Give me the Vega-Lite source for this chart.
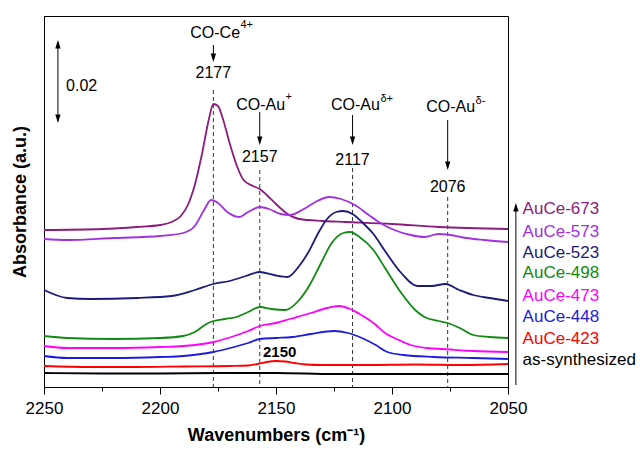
{
  "$schema": "https://vega.github.io/schema/vega-lite/v6.json",
  "width": 464,
  "height": 371,
  "autosize": {"type": "none"},
  "padding": {"left": 44, "top": 16, "right": 132, "bottom": 66},
  "background": "white",
  "config": {
    "view": {"stroke": "black", "strokeWidth": 1},
    "font": "Liberation Sans",
    "text": {"font": "Liberation Sans", "color": "black"}
  },
  "datasets": {
    "curves": [
      {"s":"AuCe-673","x":2250,"y":152},{"s":"AuCe-673","x":2225,"y":153},{"s":"AuCe-673","x":2210,"y":155},{"s":"AuCe-673","x":2200,"y":157},{"s":"AuCe-673","x":2195,"y":160},{"s":"AuCe-673","x":2191,"y":166},{"s":"AuCe-673","x":2188,"y":177},{"s":"AuCe-673","x":2185,"y":197},{"s":"AuCe-673","x":2182,"y":227},{"s":"AuCe-673","x":2179,"y":262},{"s":"AuCe-673","x":2177,"y":278},{"s":"AuCe-673","x":2175,"y":276},{"s":"AuCe-673","x":2173,"y":264},{"s":"AuCe-673","x":2170,"y":239},{"s":"AuCe-673","x":2167,"y":217},{"s":"AuCe-673","x":2164,"y":202},{"s":"AuCe-673","x":2160,"y":196},{"s":"AuCe-673","x":2157,"y":193},{"s":"AuCe-673","x":2154,"y":187},{"s":"AuCe-673","x":2150,"y":178},{"s":"AuCe-673","x":2145,"y":168},{"s":"AuCe-673","x":2140,"y":163},{"s":"AuCe-673","x":2130,"y":161},{"s":"AuCe-673","x":2120,"y":160},{"s":"AuCe-673","x":2100,"y":158},{"s":"AuCe-673","x":2080,"y":155},{"s":"AuCe-673","x":2050,"y":153},
      {"s":"AuCe-573","x":2250,"y":143},{"s":"AuCe-573","x":2240,"y":142},{"s":"AuCe-573","x":2220,"y":144},{"s":"AuCe-573","x":2200,"y":146},{"s":"AuCe-573","x":2190,"y":149},{"s":"AuCe-573","x":2185,"y":156},{"s":"AuCe-573","x":2181,"y":172},{"s":"AuCe-573","x":2178,"y":182},{"s":"AuCe-573","x":2175,"y":179},{"s":"AuCe-573","x":2171,"y":170},{"s":"AuCe-573","x":2166,"y":165},{"s":"AuCe-573","x":2162,"y":170},{"s":"AuCe-573","x":2157,"y":175},{"s":"AuCe-573","x":2153,"y":173},{"s":"AuCe-573","x":2148,"y":168},{"s":"AuCe-573","x":2144,"y":167},{"s":"AuCe-573","x":2138,"y":173},{"s":"AuCe-573","x":2133,"y":180},{"s":"AuCe-573","x":2127,"y":185},{"s":"AuCe-573","x":2122,"y":183},{"s":"AuCe-573","x":2116,"y":177},{"s":"AuCe-573","x":2110,"y":167},{"s":"AuCe-573","x":2105,"y":159},{"s":"AuCe-573","x":2099,"y":152},{"s":"AuCe-573","x":2092,"y":147},{"s":"AuCe-573","x":2086,"y":145},{"s":"AuCe-573","x":2080,"y":148},{"s":"AuCe-573","x":2075,"y":147},{"s":"AuCe-573","x":2068,"y":144},{"s":"AuCe-573","x":2060,"y":142},{"s":"AuCe-573","x":2050,"y":140},
      {"s":"AuCe-523","x":2250,"y":92},{"s":"AuCe-523","x":2240,"y":84},{"s":"AuCe-523","x":2230,"y":83},{"s":"AuCe-523","x":2210,"y":84},{"s":"AuCe-523","x":2195,"y":86},{"s":"AuCe-523","x":2185,"y":92},{"s":"AuCe-523","x":2177,"y":98},{"s":"AuCe-523","x":2170,"y":101},{"s":"AuCe-523","x":2163,"y":106},{"s":"AuCe-523","x":2157,"y":110},{"s":"AuCe-523","x":2151,"y":107},{"s":"AuCe-523","x":2145,"y":105},{"s":"AuCe-523","x":2140,"y":116},{"s":"AuCe-523","x":2136,"y":130},{"s":"AuCe-523","x":2132,"y":148},{"s":"AuCe-523","x":2128,"y":163},{"s":"AuCe-523","x":2124,"y":170},{"s":"AuCe-523","x":2121,"y":171},{"s":"AuCe-523","x":2117,"y":168},{"s":"AuCe-523","x":2113,"y":160},{"s":"AuCe-523","x":2108,"y":148},{"s":"AuCe-523","x":2103,"y":131},{"s":"AuCe-523","x":2096,"y":109},{"s":"AuCe-523","x":2089,"y":96},{"s":"AuCe-523","x":2083,"y":96},{"s":"AuCe-523","x":2077,"y":98},{"s":"AuCe-523","x":2071,"y":92},{"s":"AuCe-523","x":2065,"y":87},{"s":"AuCe-523","x":2058,"y":84},{"s":"AuCe-523","x":2050,"y":81},
      {"s":"AuCe-498","x":2250,"y":46},{"s":"AuCe-498","x":2240,"y":44},{"s":"AuCe-498","x":2220,"y":43},{"s":"AuCe-498","x":2200,"y":44},{"s":"AuCe-498","x":2190,"y":46},{"s":"AuCe-498","x":2185,"y":50},{"s":"AuCe-498","x":2180,"y":58},{"s":"AuCe-498","x":2177,"y":61},{"s":"AuCe-498","x":2172,"y":63},{"s":"AuCe-498","x":2167,"y":65},{"s":"AuCe-498","x":2162,"y":70},{"s":"AuCe-498","x":2157,"y":75},{"s":"AuCe-498","x":2152,"y":73},{"s":"AuCe-498","x":2146,"y":72},{"s":"AuCe-498","x":2140,"y":82},{"s":"AuCe-498","x":2136,"y":95},{"s":"AuCe-498","x":2131,"y":117},{"s":"AuCe-498","x":2126,"y":139},{"s":"AuCe-498","x":2121,"y":149},{"s":"AuCe-498","x":2118,"y":150},{"s":"AuCe-498","x":2114,"y":145},{"s":"AuCe-498","x":2108,"y":132},{"s":"AuCe-498","x":2103,"y":114},{"s":"AuCe-498","x":2096,"y":89},{"s":"AuCe-498","x":2090,"y":72},{"s":"AuCe-498","x":2086,"y":65},{"s":"AuCe-498","x":2080,"y":61},{"s":"AuCe-498","x":2076,"y":59},{"s":"AuCe-498","x":2070,"y":53},{"s":"AuCe-498","x":2065,"y":47},{"s":"AuCe-498","x":2058,"y":45},{"s":"AuCe-498","x":2050,"y":44},
      {"s":"AuCe-473","x":2250,"y":36},{"s":"AuCe-473","x":2240,"y":34},{"s":"AuCe-473","x":2220,"y":34},{"s":"AuCe-473","x":2200,"y":35},{"s":"AuCe-473","x":2190,"y":36},{"s":"AuCe-473","x":2177,"y":40},{"s":"AuCe-473","x":2168,"y":46},{"s":"AuCe-473","x":2162,"y":51},{"s":"AuCe-473","x":2157,"y":56},{"s":"AuCe-473","x":2150,"y":59},{"s":"AuCe-473","x":2144,"y":63},{"s":"AuCe-473","x":2135,"y":69},{"s":"AuCe-473","x":2128,"y":74},{"s":"AuCe-473","x":2123,"y":76},{"s":"AuCe-473","x":2118,"y":73},{"s":"AuCe-473","x":2114,"y":68},{"s":"AuCe-473","x":2108,"y":59},{"s":"AuCe-473","x":2103,"y":49},{"s":"AuCe-473","x":2097,"y":42},{"s":"AuCe-473","x":2092,"y":37},{"s":"AuCe-473","x":2085,"y":34},{"s":"AuCe-473","x":2078,"y":33},{"s":"AuCe-473","x":2065,"y":31},{"s":"AuCe-473","x":2050,"y":30},
      {"s":"AuCe-448","x":2250,"y":26},{"s":"AuCe-448","x":2240,"y":24},{"s":"AuCe-448","x":2220,"y":24},{"s":"AuCe-448","x":2200,"y":25},{"s":"AuCe-448","x":2190,"y":26},{"s":"AuCe-448","x":2177,"y":30},{"s":"AuCe-448","x":2168,"y":35},{"s":"AuCe-448","x":2162,"y":39},{"s":"AuCe-448","x":2157,"y":43},{"s":"AuCe-448","x":2150,"y":44},{"s":"AuCe-448","x":2143,"y":45},{"s":"AuCe-448","x":2135,"y":48},{"s":"AuCe-448","x":2125,"y":51},{"s":"AuCe-448","x":2119,"y":49},{"s":"AuCe-448","x":2113,"y":44},{"s":"AuCe-448","x":2107,"y":37},{"s":"AuCe-448","x":2102,"y":30},{"s":"AuCe-448","x":2095,"y":27},{"s":"AuCe-448","x":2082,"y":25},{"s":"AuCe-448","x":2065,"y":24},{"s":"AuCe-448","x":2050,"y":23},
      {"s":"AuCe-423","x":2250,"y":16},{"s":"AuCe-423","x":2230,"y":15},{"s":"AuCe-423","x":2210,"y":15},{"s":"AuCe-423","x":2190,"y":15.5},{"s":"AuCe-423","x":2170,"y":16},{"s":"AuCe-423","x":2162,"y":16.5},{"s":"AuCe-423","x":2158,"y":18},{"s":"AuCe-423","x":2154,"y":20},{"s":"AuCe-423","x":2150,"y":21},{"s":"AuCe-423","x":2146,"y":20.5},{"s":"AuCe-423","x":2142,"y":19},{"s":"AuCe-423","x":2137,"y":17.5},{"s":"AuCe-423","x":2130,"y":17},{"s":"AuCe-423","x":2110,"y":17},{"s":"AuCe-423","x":2090,"y":17.5},{"s":"AuCe-423","x":2070,"y":17},{"s":"AuCe-423","x":2050,"y":18},
      {"s":"as-synthesized","x":2250,"y":9},{"s":"as-synthesized","x":2225,"y":8.5},{"s":"as-synthesized","x":2200,"y":8.5},{"s":"as-synthesized","x":2175,"y":9},{"s":"as-synthesized","x":2150,"y":9},{"s":"as-synthesized","x":2125,"y":8},{"s":"as-synthesized","x":2100,"y":8},{"s":"as-synthesized","x":2075,"y":8},{"s":"as-synthesized","x":2050,"y":8}
    ],
    "dashed": [
      {"x":2177,"y":292,"y2":-5},{"x":2157,"y":212,"y2":-5},{"x":2117,"y":214,"y2":-5},{"x":2076,"y":185,"y2":-5}
    ],
    "arrows": [
      {"x":2177,"y":337,"y2":322},{"x":2157,"y":270,"y2":239},{"x":2117,"y":267,"y2":239},{"x":2076,"y":262,"y2":214},{"x":2244,"y":340,"y2":261},{"x":2046.6,"y":-3,"y2":177}
    ],
    "headsDown": [
      {"x":2177,"y":320},{"x":2157,"y":237},{"x":2117,"y":237},{"x":2076,"y":212},{"x":2244,"y":259}
    ],
    "headsUp": [
      {"x":2244,"y":342},{"x":2046.6,"y":179}
    ],
    "baseText": [
      {"x":2165.5,"y":349,"t":"CO-Ce"},{"x":2146.1,"y":277,"t":"CO-Au"},{"x":2105.2,"y":277,"t":"CO-Au"},{"x":2064.2,"y":275,"t":"CO-Au"}
    ],
    "supText": [
      {"x":2165.3,"y":357,"t":"4+"},{"x":2145.9,"y":285,"t":"+"},{"x":2105,"y":283,"t":"δ+"},{"x":2064,"y":281,"t":"δ-"}
    ],
    "numText": [
      {"x":2177,"y":309,"t":"2177"},{"x":2157,"y":225,"t":"2157"},{"x":2117,"y":222,"t":"2117"},{"x":2076,"y":195,"t":"2076"}
    ],
    "scaleText": [
      {"x":2240.5,"y":296,"t":"0.02"}
    ],
    "boldText": [
      {"x":2148.4,"y":30,"t":"2150"}
    ],
    "legend": [
      {"s":"AuCe-673","x":2043.7,"y":173},{"s":"AuCe-573","x":2043.7,"y":150.3},{"s":"AuCe-523","x":2043.7,"y":129.3},{"s":"AuCe-498","x":2043.7,"y":108.7},{"s":"AuCe-473","x":2043.7,"y":86},{"s":"AuCe-448","x":2043.7,"y":64.7},{"s":"AuCe-423","x":2043.7,"y":42.7},{"s":"as-synthesized","x":2043.7,"y":22}
    ]
  },
  "layer": [
    {
      "data": {"name": "dashed"},
      "mark": {"type": "rule", "strokeDash": [4, 3], "color": "#333333", "strokeWidth": 1},
      "encoding": {
        "x": {"field": "x", "type": "quantitative", "scale": {"domain": [2050, 2250], "reverse": true, "nice": false, "zero": false},
          "axis": {
            "values": [2250, 2225, 2200, 2175, 2150, 2125, 2100, 2075, 2050],
            "labelExpr": "datum.value % 50 === 0 ? datum.label : ''",
            "format": "d",
            "tickSize": {"condition": {"test": "datum.value % 50 === 0", "value": 7}, "value": 4},
            "tickColor": "black", "domainColor": "black", "labelColor": "black", "titleColor": "black",
            "grid": false, "labelFlush": false, "labelFontSize": 17, "labelFont": "Liberation Sans",
            "labelPadding": 6,
            "title": "Wavenumbers (cm⁻¹)", "titleFontSize": 18, "titleFont": "Liberation Sans", "titleFontWeight": "bold", "titlePadding": 10
          }},
        "y": {"field": "y", "type": "quantitative", "scale": {"domain": [-5, 366], "nice": false, "zero": false},
          "axis": {"title": "Absorbance (a.u.)", "labels": false, "ticks": false, "grid": false, "domainColor": "black",
            "titleFontSize": 18, "titleFont": "Liberation Sans", "titleFontWeight": "bold", "titlePadding": 15, "titleColor": "black"}},
        "y2": {"field": "y2"}
      }
    },
    {
      "data": {"name": "curves"},
      "mark": {"type": "line", "interpolate": "monotone", "strokeWidth": 1.8},
      "encoding": {
        "x": {"field": "x", "type": "quantitative"},
        "y": {"field": "y", "type": "quantitative"},
        "color": {"field": "s", "type": "nominal", "legend": null,
          "scale": {"domain": ["AuCe-673","AuCe-573","AuCe-523","AuCe-498","AuCe-473","AuCe-448","AuCe-423","as-synthesized"],
            "range": ["#8B1C7C","#A030E0","#1B1B78","#108A10","#FF00FF","#1C1CE0","#FF0000","#000000"]}}
      }
    },
    {
      "data": {"name": "arrows"},
      "mark": {"type": "rule", "color": "black", "strokeWidth": 1},
      "encoding": {
        "x": {"field": "x", "type": "quantitative"},
        "y": {"field": "y", "type": "quantitative"},
        "y2": {"field": "y2"}
      }
    },
    {
      "data": {"name": "headsDown"},
      "mark": {"type": "point", "shape": "M-1,-3.2L1,-3.2L0,0Z", "filled": true, "size": 28, "color": "black", "opacity": 1},
      "encoding": {
        "x": {"field": "x", "type": "quantitative"},
        "y": {"field": "y", "type": "quantitative"}
      }
    },
    {
      "data": {"name": "headsUp"},
      "mark": {"type": "point", "shape": "M-1,3.2L1,3.2L0,0Z", "filled": true, "size": 28, "color": "black", "opacity": 1},
      "encoding": {
        "x": {"field": "x", "type": "quantitative"},
        "y": {"field": "y", "type": "quantitative"}
      }
    },
    {
      "data": {"name": "baseText"},
      "mark": {"type": "text", "align": "right", "baseline": "middle", "fontSize": 16, "color": "black"},
      "encoding": {
        "x": {"field": "x", "type": "quantitative"},
        "y": {"field": "y", "type": "quantitative"},
        "text": {"field": "t"}
      }
    },
    {
      "data": {"name": "supText"},
      "mark": {"type": "text", "align": "left", "baseline": "middle", "fontSize": 11, "color": "black"},
      "encoding": {
        "x": {"field": "x", "type": "quantitative"},
        "y": {"field": "y", "type": "quantitative"},
        "text": {"field": "t"}
      }
    },
    {
      "data": {"name": "numText"},
      "mark": {"type": "text", "align": "center", "baseline": "middle", "fontSize": 16, "color": "black"},
      "encoding": {
        "x": {"field": "x", "type": "quantitative"},
        "y": {"field": "y", "type": "quantitative"},
        "text": {"field": "t"}
      }
    },
    {
      "data": {"name": "scaleText"},
      "mark": {"type": "text", "align": "left", "baseline": "middle", "fontSize": 16, "color": "black"},
      "encoding": {
        "x": {"field": "x", "type": "quantitative"},
        "y": {"field": "y", "type": "quantitative"},
        "text": {"field": "t"}
      }
    },
    {
      "data": {"name": "boldText"},
      "mark": {"type": "text", "align": "center", "baseline": "middle", "fontSize": 15, "fontWeight": "bold", "color": "black"},
      "encoding": {
        "x": {"field": "x", "type": "quantitative"},
        "y": {"field": "y", "type": "quantitative"},
        "text": {"field": "t"}
      }
    },
    {
      "data": {"name": "legend"},
      "mark": {"type": "text", "align": "left", "baseline": "middle", "fontSize": 17},
      "encoding": {
        "x": {"field": "x", "type": "quantitative"},
        "y": {"field": "y", "type": "quantitative"},
        "text": {"field": "s"},
        "color": {"field": "s", "type": "nominal", "legend": null}
      }
    }
  ]
}
